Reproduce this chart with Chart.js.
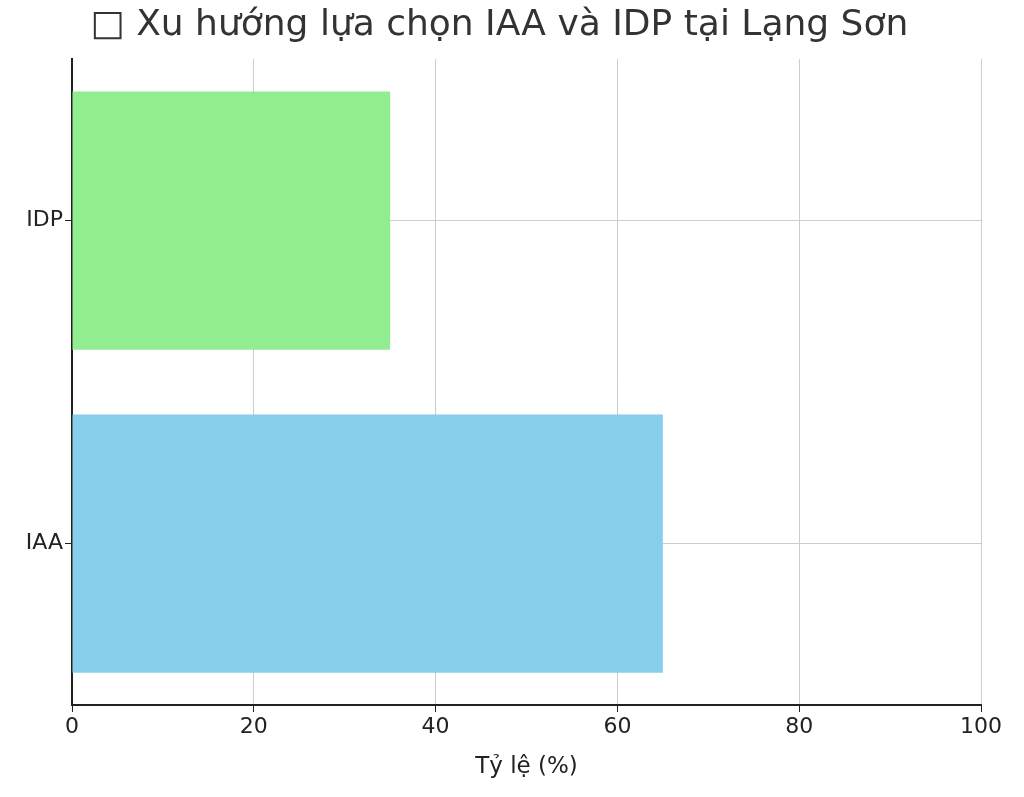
<!DOCTYPE html>
<html><head><meta charset="utf-8">
<script src="https://cdn.jsdelivr.net/npm/chart.js@4"></script>
<style>html,body{margin:0;padding:0;background:#fff}#w{width:1024px;height:797px}</style>
</head><body><div id="w"><canvas id="c"></canvas></div>
<script>
const categories = ['IAA', 'IDP'];
const values = [65, 35];
const barColors = ['#87CEEB', '#90EE90'];
const xTicks = [0, 20, 40, 60, 80, 100];
const titleText = '\u2002□ Xu hướng lựa chọn IAA và IDP tại Lạng Sơn';
const xTitle = 'Tỷ lệ (%)';

Chart.defaults.font.family = 'DejaVu Sans';
Chart.defaults.color = '#222';
new Chart(document.getElementById('c'), {
  type: 'bar',
  data: { labels: categories, datasets: [{ data: values, backgroundColor: barColors, barPercentage: 0.8, categoryPercentage: 1 }] },
  options: {
    indexAxis: 'y', responsive: true, maintainAspectRatio: false, animation: false,
    layout: { padding: { left: 0, right: 43, top: 0, bottom: 0 } },
    plugins: {
      legend: { display: false }, tooltip: { enabled: false },
      title: { display: true, text: titleText, color: '#333', font: { size: 36, weight: 'normal' }, padding: { top: 4, bottom: 12 } }
    },
    scales: {
      x: {
        min: 0, max: 100, afterBuildTicks: s => { s.ticks = xTicks.map(v => ({ value: v })); },
        ticks: { font: { size: 22 }, color: '#222', padding: 2 },
        grid: { color: '#ccc', tickColor: '#222', tickLength: 7 },
        border: { color: '#222', width: 2 },
        title: { display: true, text: xTitle, font: { size: 23 }, color: '#222', padding: { top: 2, bottom: 16 } },
        afterFit: s => { s.height = 92; }
      },
      y: {
        reverse: true,
        ticks: { font: { size: 22 }, color: '#222', padding: 2 },
        grid: { color: '#ccc', tickColor: '#222', tickLength: 7, offset: false },
        border: { color: '#222', width: 2 },
        afterFit: s => { s.width = 72; }
      }
    }
  }
});
</script></body></html>
